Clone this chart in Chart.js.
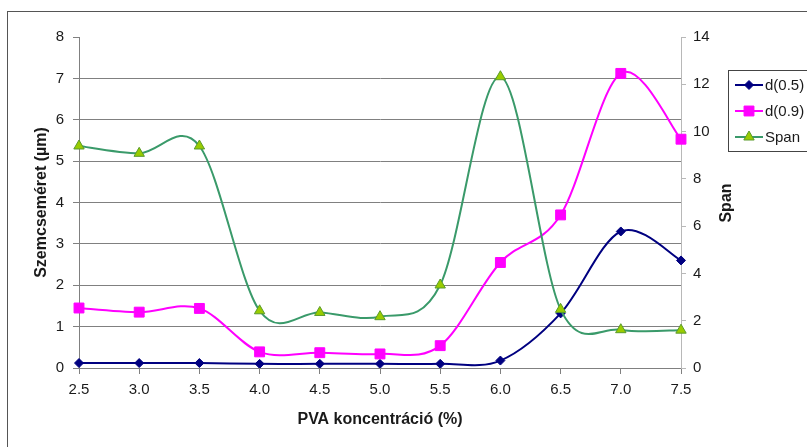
<!DOCTYPE html>
<html>
<head>
<meta charset="utf-8">
<script src="https://cdn.jsdelivr.net/npm/chart.js@4/dist/chart.umd.min.js"></script>
<style>
  html, body { margin: 0; padding: 0; background: #fff; overflow: hidden; }
  #wrap { position: relative; width: 807px; height: 447px; overflow: hidden; }
  #frame { position: absolute; left: 7px; top: 11px; width: 830px; height: 470px; border: 1px solid #555; }
  #c { position: absolute; left: 0; top: 0; }
</style>
</head>
<body>
<div id="wrap">
  <div id="frame"></div>
  <canvas id="c" width="807" height="447"></canvas>
</div>
<script>
// PVA concentration (%) on the category axis
const concentrations = [2.5, 3.0, 3.5, 4.0, 4.5, 5.0, 5.5, 6.0, 6.5, 7.0, 7.5];
// particle size d(0.5) and d(0.9), µm (left axis)
const d05 = [0.12, 0.12, 0.12, 0.10, 0.10, 0.10, 0.10, 0.18, 1.32, 3.30, 2.60];
const d09 = [1.45, 1.35, 1.44, 0.39, 0.37, 0.34, 0.54, 2.55, 3.70, 7.12, 5.53];
// span (right axis)
const span = [9.39, 9.08, 9.39, 2.42, 2.35, 2.17, 3.51, 12.32, 2.48, 1.62, 1.60];

const seriesNames = ['d(0.5)', 'd(0.9)', 'Span'];
const xTitle = 'PVA koncentráció (%)';
const yTitle = 'Szemcseméret (µm)';
const y2Title = 'Span';

const FONT = "'Liberation Sans', Arial, sans-serif";
const GRID = '#808080';
const AXIS2 = '#b8b8b8';
const TEXT = '#1a1a1a';

const NAVY = '#000080';
const MAGENTA = '#FF00FF';
const GREEN = '#3A9A6A';
const LIME = '#99CC00';

// Uniform Catmull-Rom smoothing (arms = (next - prev) / 6) on the pixel points
const smoothLines = {
  id: 'smoothLines',
  beforeDatasetsDraw(chart) {
    chart.getSortedVisibleDatasetMetas().forEach(meta => {
      const line = meta.dataset;
      const pts = meta.data;
      if (!line || !pts.length) return;
      line.updateControlPoints(chart.chartArea, 'x');
      for (let i = 0; i < pts.length; i++) {
        const cur = pts[i];
        const prev = pts[Math.max(0, i - 1)];
        const next = pts[Math.min(pts.length - 1, i + 1)];
        const dx = (next.x - prev.x) / 6;
        const dy = (next.y - prev.y) / 6;
        cur.cp1x = cur.x - dx; cur.cp1y = cur.y - dy;
        cur.cp2x = cur.x + dx; cur.cp2y = cur.y + dy;
      }
      line._pointsUpdated = true;
      line._path = undefined;
    });
  }
};

// Boxed legend and the right-hand axis title
const extras = {
  id: 'extras',
  afterDraw(chart) {
    const ctx = chart.ctx;
    const H = Chart.helpers;
    ctx.save();
    // legend box
    ctx.strokeStyle = '#444';
    ctx.lineWidth = 1;
    ctx.strokeRect(728.5, 70.5, 110, 81);
    const rows = [85, 111, 137];
    chart.data.datasets.forEach((ds, i) => {
      const y = rows[i];
      ctx.strokeStyle = ds.borderColor;
      ctx.lineWidth = 2;
      ctx.beginPath();
      ctx.moveTo(735, y);
      ctx.lineTo(763, y);
      ctx.stroke();
      ctx.fillStyle = ds.pointBackgroundColor;
      ctx.strokeStyle = ds.pointBorderColor;
      ctx.lineWidth = 1;
      H.drawPoint(ctx, { pointStyle: ds.pointStyle, radius: ds.pointRadius, borderWidth: 1, rotation: 0 }, 749, y);
      ctx.fillStyle = TEXT;
      ctx.font = '15px ' + FONT;
      ctx.textAlign = 'left';
      ctx.textBaseline = 'middle';
      ctx.fillText(ds.label, 765, y + 1);
    });
    // right axis title, reading upwards
    ctx.translate(727, 203);
    ctx.rotate(-Math.PI / 2);
    ctx.font = 'bold 16px ' + FONT;
    ctx.fillStyle = TEXT;
    ctx.textAlign = 'center';
    ctx.textBaseline = 'middle';
    ctx.fillText(y2Title, 0, 0);
    ctx.restore();
  }
};

const tickFont = { family: FONT, size: 15 };
const titleFont = { family: FONT, size: 16, weight: 'bold' };

new Chart(document.getElementById('c'), {
  type: 'line',
  data: {
    labels: concentrations.map(v => v.toFixed(1)),
    datasets: [
      {
        label: seriesNames[0], data: d05, yAxisID: 'y', order: 3,
        borderColor: NAVY, borderWidth: 2, tension: 0.4,
        pointStyle: 'rectRot', pointRadius: 4.5,
        pointBackgroundColor: NAVY, pointBorderColor: NAVY, pointBorderWidth: 1
      },
      {
        label: seriesNames[1], data: d09, yAxisID: 'y', order: 2,
        borderColor: MAGENTA, borderWidth: 2, tension: 0.4,
        pointStyle: 'rect', pointRadius: 7,
        pointBackgroundColor: MAGENTA, pointBorderColor: MAGENTA, pointBorderWidth: 1
      },
      {
        label: seriesNames[2], data: span, yAxisID: 'y2', order: 1,
        borderColor: GREEN, borderWidth: 2, tension: 0.4,
        pointStyle: 'triangle', pointRadius: 6,
        pointBackgroundColor: LIME, pointBorderColor: '#5A9A2A', pointBorderWidth: 1
      }
    ]
  },
  options: {
    responsive: false,
    animation: false,
    devicePixelRatio: 1,
    layout: { padding: { top: 37, left: 0, right: 0, bottom: 0 } },
    plugins: { legend: { display: false }, tooltip: { enabled: false } },
    scales: {
      x: {
        type: 'category',
        offset: false,
        grid: { drawOnChartArea: false, drawTicks: true, tickLength: 6, color: GRID, tickColor: GRID },
        border: { color: GRID, width: 1 },
        ticks: { font: tickFont, color: TEXT, padding: 7, maxRotation: 0, autoSkip: false },
        title: { display: true, text: xTitle, font: titleFont, color: TEXT, padding: { top: 0, bottom: 18 } },
        afterFit: s => { s.height = 79; }
      },
      y: {
        position: 'left',
        min: 0, max: 8,
        grid: {
          color: c => (c.tick && c.tick.value === 8) ? 'rgba(0,0,0,0)' : GRID,
          tickColor: GRID, tickLength: 6, drawTicks: true
        },
        border: { color: GRID, width: 1 },
        ticks: { stepSize: 1, font: tickFont, color: TEXT, padding: 9 },
        title: { display: true, text: yTitle, font: titleFont, color: TEXT, padding: { top: 32, bottom: 0 } },
        afterFit: s => { s.width = 79; }
      },
      y2: {
        position: 'right',
        min: 0, max: 14,
        grid: { drawOnChartArea: false, tickColor: AXIS2, tickLength: 5, drawTicks: true },
        border: { color: AXIS2, width: 1 },
        ticks: { stepSize: 2, font: tickFont, color: TEXT, padding: 7 },
        afterFit: s => { s.width = 126; }
      }
    }
  },
  plugins: [smoothLines, extras]
});
</script>
</body>
</html>
